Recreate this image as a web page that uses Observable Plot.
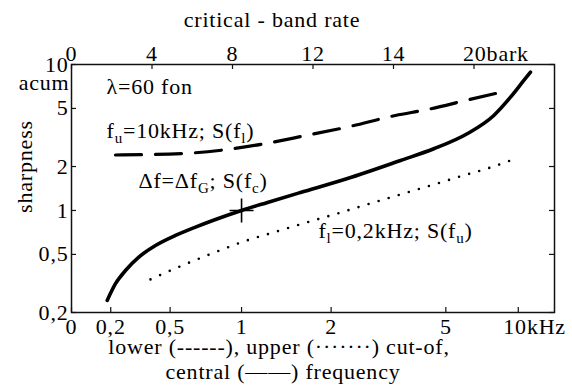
<!DOCTYPE html>
<html><head><meta charset="utf-8">
<script src="https://cdn.jsdelivr.net/npm/d3@7"></script>
<script src="https://cdn.jsdelivr.net/npm/@observablehq/plot@0.6"></script>
<style>
body{margin:0;background:#fff;}
#chart svg{display:block;font-family:"Liberation Serif","Times New Roman",serif;font-size:22px;letter-spacing:0.8px;}
</style>
</head><body><div id="chart"></div>
<script>
// x = critical-band rate (bark), y = sharpness (acum)
const centralBark  = [1.774, 2.186, 2.683, 3.344, 4.174, 5.168, 6.161, 7.155, 8.447, 9.739, 11.379, 13.714, 16.348, 18.003, 19.662, 20.984, 21.814, 22.475, 22.807];
const centralSharp = [0.242, 0.315, 0.388, 0.479, 0.575, 0.674, 0.769, 0.867, 1.0, 1.135, 1.328, 1.656, 2.20, 2.646, 3.352, 4.475, 5.97, 7.77, 8.86];
const lowerBark  = [2.186, 5.565, 7.553, 9.64, 11.528, 13.714, 16.099, 17.689, 19.677, 21.615];
const lowerSharp = [2.399, 2.457, 2.597, 2.876, 3.237, 3.732, 4.475, 4.918, 5.712, 6.583];
const upperBark  = [3.925, 5.501, 6.991, 8.561, 10.037, 11.528, 13.217, 14.857, 16.497, 18.186, 19.478, 20.671, 22.161];
const upperSharp = [0.337, 0.420, 0.508, 0.613, 0.707, 0.815, 0.954, 1.117, 1.307, 1.531, 1.737, 1.940, 2.288];
const markerBark = [8.45];
const markerSharp = [1];

const barkTicks  = [0, 4, 8, 12, 16, 20];
const barkLabels = ["0", "4", "8", "12", "14", "20bark"];
const freqTickBark = [0, 1.95, 4.9, 8.45, 12.9, 18.6, 22.2];
const freqLabels   = ["0", "0,2", "0,5", "1", "2", "5", "10kHz"];
const sharpTicks  = [0.2, 0.5, 1, 2, 5, 10];
const sharpLabels = ["0,2", "0,5", "1", "2", "5", "10"];

const annoText  = ["λ=60 fon", "f_u=10kHz; S(f_l)", "Δf=Δf_G; S(f_c)", "f_l=0,2kHz; S(f_u)"];
const annoBark  = [1.74, 1.74, 3.33, 12.27];
const annoSharp = [6.24, 3.16, 1.42, 0.643];

const titleText = "critical - band rate";
const yLabelText = "sharpness";
const unitText = "acum";
const captionLines = ["lower (------), upper (·······) cut-of,", "central (——) frequency"];

const zip = (xs, ys) => xs.map((x, i) => ({x, y: ys[i]}));
const central = zip(centralBark, centralSharp);
const lower = zip(lowerBark, lowerSharp);
const upper = zip(upperBark, upperSharp);
const marker = zip(markerBark, markerSharp);
const annos = annoText.map((t, i) => ({t, x: annoBark[i], y: annoSharp[i]}));
const topLbl = barkTicks.map((x, i) => ({x, t: barkLabels[i]}));
const botLbl = freqTickBark.map((x, i) => ({x, t: freqLabels[i]}));
const leftLbl = sharpTicks.map((y, i) => ({y, t: sharpLabels[i]}));

const cross = {
  draw(context, size) {
    const r = Math.sqrt(size / Math.PI);
    context.moveTo(-r, 0); context.lineTo(r, 0);
    context.moveTo(0, -r); context.lineTo(0, r);
  }
};

const FONT = "Liberation Serif";
const W = 572, H = 385, mT = 64, mB = 73, mL = 71, mR = 18;
const fw = W - mL - mR, fh = H - mT - mB, tk = 5;

const chart = Plot.plot({
  width: W, height: H,
  marginTop: mT, marginBottom: mB, marginLeft: mL, marginRight: mR,
  style: "font-family: 'Liberation Serif', 'Times New Roman', serif; font-size: 22px; letter-spacing: 0.8px; color: #000; background: #fff; overflow: visible;",
  x: {domain: [0, 24], axis: null},
  y: {type: "log", domain: [0.2, 10], axis: null},
  marks: [
    Plot.frame({stroke: "#111", strokeWidth: 1.5}),
    Plot.tickY(sharpTicks, {y: d => d, insetRight: fw - tk, stroke: "#111", strokeWidth: 1.2}),
    Plot.tickY(sharpTicks, {y: d => d, insetLeft: fw - tk, stroke: "#111", strokeWidth: 1.2}),
    Plot.tickX(barkTicks, {x: d => d, insetBottom: fh - tk, stroke: "#111", strokeWidth: 1.2}),
    Plot.tickX(freqTickBark, {x: d => d, insetTop: fh - tk, stroke: "#111", strokeWidth: 1.2}),
    // tick labels
    Plot.text(leftLbl, {y: "y", text: "t", frameAnchor: "left", textAnchor: "end", lineAnchor: "middle", dx: -3}),
    Plot.text(topLbl.slice(0, 5), {x: "x", text: "t", frameAnchor: "top", textAnchor: "middle", lineAnchor: "bottom", dy: -4}),
    Plot.text(topLbl.slice(5), {x: "x", text: "t", frameAnchor: "top", lineAnchor: "bottom", textAnchor: "start", dx: -11, dy: -4}),
    Plot.text(botLbl.slice(0, 6), {x: "x", text: "t", frameAnchor: "bottom", textAnchor: "middle", lineAnchor: "top", dy: 6}),
    Plot.text(botLbl.slice(6), {x: "x", text: "t", frameAnchor: "bottom", lineAnchor: "top", textAnchor: "start", dx: -15, dy: 6}),
    // titles
    Plot.text([titleText], {text: d => d, frameAnchor: "top", textAnchor: "middle", lineAnchor: "bottom", dx: -41, dy: -38}),
    Plot.text([yLabelText], {text: d => d, frameAnchor: "left", textAnchor: "middle", lineAnchor: "middle", rotate: -90, dx: -47, dy: -22}),
    Plot.text([unitText], {text: d => d, frameAnchor: "top-left", textAnchor: "end", lineAnchor: "bottom", dx: -2, dy: 25}),
    Plot.text([captionLines[0]], {text: d => d, frameAnchor: "bottom", textAnchor: "middle", lineAnchor: "bottom", dx: -34, dy: 41, letterSpacing: 0.4}),
    Plot.text([captionLines[1]], {text: d => d, frameAnchor: "bottom", textAnchor: "middle", lineAnchor: "bottom", dx: -30, dy: 66}),
    // curves
    Plot.line(lower, {x: "x", y: "y", curve: "monotone-x", stroke: "#000", strokeWidth: 3.2, strokeDasharray: "26,14"}),
    Plot.line(upper, {x: "x", y: "y", curve: "monotone-x", stroke: "#000", strokeWidth: 2.6, strokeDasharray: "0,10.5", strokeLinecap: "round"}),
    Plot.line(central, {x: "x", y: "y", curve: "monotone-x", stroke: "#000", strokeWidth: 3.6}),
    Plot.dot(marker, {x: "x", y: "y", r: 12, symbol: cross, stroke: "#000", fill: "none", strokeWidth: 1.6}),
    // annotations
    Plot.text(annos, {x: "x", y: "y", text: "t", textAnchor: "start", lineAnchor: "bottom"})
  ]
});

// serif face on every text; subscripts ("_x" marks a subscript character)
chart.querySelectorAll("text").forEach(t => {
  t.setAttribute("font-family", FONT);
  t.style.fontVariant = "normal";
  const s = t.textContent;
  if (!s.includes("_") || t.querySelector("tspan")) return;
  t.textContent = "";
  const parts = s.split(/_(.)/);
  let shifted = false;
  parts.forEach((p, i) => {
    if (!p) return;
    const ts = document.createElementNS("http://www.w3.org/2000/svg", "tspan");
    ts.textContent = p;
    if (i % 2 === 1) { ts.setAttribute("font-size", "15"); ts.setAttribute("dy", "5"); shifted = true; }
    else if (shifted) { ts.setAttribute("dy", "-5"); shifted = false; }
    t.appendChild(ts);
  });
});

document.getElementById("chart").appendChild(chart);
</script>
</body></html>
